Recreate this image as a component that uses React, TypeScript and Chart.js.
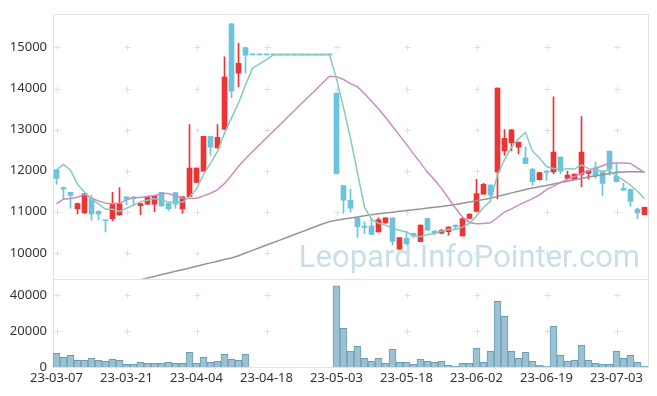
import { useEffect, useRef } from 'react';
import { Chart, registerables } from 'chart.js';

Chart.register(...registerables);

const dates = [
  '23-03-07','23-03-08','23-03-09','23-03-10','23-03-13','23-03-14','23-03-15','23-03-16','23-03-17','23-03-20',
  '23-03-21','23-03-22','23-03-23','23-03-24','23-03-27','23-03-28','23-03-29','23-03-30','23-03-31','23-04-03',
  '23-04-04','23-04-05','23-04-06','23-04-07','23-04-10','23-04-11','23-04-12','23-04-13','23-04-14','23-04-17',
  '23-04-18','23-04-19','23-04-20','23-04-21','23-04-24','23-04-25','23-04-26','23-04-27','23-04-28','23-05-02',
  '23-05-03','23-05-04','23-05-08','23-05-09','23-05-10','23-05-11','23-05-12','23-05-15','23-05-16','23-05-17',
  '23-05-18','23-05-19','23-05-22','23-05-23','23-05-24','23-05-25','23-05-26','23-05-30','23-05-31','23-06-01',
  '23-06-02','23-06-05','23-06-07','23-06-08','23-06-09','23-06-12','23-06-13','23-06-14','23-06-15','23-06-16',
  '23-06-19','23-06-20','23-06-21','23-06-22','23-06-23','23-06-26','23-06-27','23-06-28','23-06-29','23-06-30',
  '23-07-03','23-07-04','23-07-05','23-07-06','23-07-07',
];

const opens = [
  12020, 11590, 11470, 11070, 10970, 11320, 11010, 10800, 10830, 10920,
  11365, 11360, 11150, 11185, 11185, 11470, 11210, 11467, 11070, 11365,
  11715, 11990, 12835, 12556, 13012, 15577, 14375, 15000, 14820, 14820,
  14820, 14820, 14820, 14820, 14820, 14820, 14820, 14820, 14820, 14820,
  13890, 11635, 11280, 10850, 10650, 10650, 10512, 10730, 10850, 10090,
  10355, 10475, 10273, 10835, 10530, 10480, 10513, 10675, 10410, 10835,
  11010, 11427, 11650, 11970, 12484, 12676, 12572, 12310, 12036, 11779,
  11990, 11971, 12332, 11811, 11787, 11907, 11931, 12067, 11971, 12476,
  11867, 11571, 11547, 11067, 10930,
];
const highs = [
  12030, 11600, 11480, 11210, 11450, 11400, 11020, 10800, 11470, 11590,
  11370, 11370, 11210, 11380, 11400, 11470, 11220, 11470, 11370, 13120,
  12070, 12840, 12840, 13120, 14770, 15580, 15100, 15000, 14820, 14820,
  14820, 14820, 14820, 14820, 14820, 14820, 14820, 14820, 14820, 14820,
  13890, 11640, 11555, 10850, 10755, 10835, 10850, 10855, 10855, 10375,
  10530, 10480, 10680, 10840, 10540, 10570, 10640, 10680, 10840, 10950,
  11790, 11690, 11655, 14015, 13000, 13000, 12700, 12572, 12060, 11960,
  11995, 13800, 12335, 11990, 11920, 13320, 12010, 12212, 11975, 12480,
  12172, 11690, 11550, 11090, 11115,
];
const lows = [
  11670, 11310, 11090, 10950, 10960, 10790, 10800, 10510, 10780, 10910,
  11170, 11150, 10930, 11180, 11000, 11130, 11030, 11090, 10960, 11360,
  11710, 11985, 12375, 12550, 13000, 13780, 14040, 14375, 14820, 14820,
  14820, 14820, 14820, 14820, 14820, 14820, 14820, 14820, 14820, 14820,
  11930, 10960, 10990, 10375, 10465, 10445, 10510, 10725, 10185, 10085,
  10185, 10370, 10270, 10550, 10440, 10460, 10430, 10570, 10405, 10830,
  11000, 11420, 11315, 11315, 12372, 12484, 12410, 12165, 11650, 11770,
  11760, 11930, 11930, 11805, 11780, 11610, 11795, 11810, 11387, 11890,
  11725, 11520, 11130, 10825, 10925,
];
const closes = [
  11810, 11550, 11400, 11200, 11435, 10950, 10950, 10780, 11195, 11195,
  11305, 11320, 11200, 11370, 11395, 11140, 11075, 11185, 11365, 12065,
  12065, 12835, 12575, 12812, 14280, 13935, 14615, 14815, 14820, 14820,
  14820, 14820, 14820, 14820, 14820, 14820, 14820, 14820, 14820, 14820,
  11930, 11280, 11085, 10635, 10620, 10450, 10810, 10850, 10275, 10370,
  10225, 10410, 10673, 10553, 10480, 10545, 10625, 10635, 10835, 10945,
  11443, 11667, 11410, 14014, 12788, 12997, 12692, 12170, 11731, 11955,
  11955, 12452, 11988, 11892, 11915, 12452, 12003, 11875, 11691, 12036,
  11731, 11523, 11250, 10971, 11106,
];
const volumes = [
  7600, 5370, 6480, 3700, 3700, 4810, 3700, 3150, 4260, 3700,
  1480, 1480, 2590, 2040, 2040, 2040, 2590, 2040, 2040, 8150,
  2040, 5370, 2590, 3150, 7040, 4260, 3700, 7040, 0, 0,
  0, 0, 0, 0, 0, 0, 0, 0, 0, 0,
  45000, 21500, 8890, 11480, 4810, 3150, 4810, 2040, 9810, 2590,
  2590, 1480, 4260, 3150, 2590, 3150, 925, 370, 2040, 2040,
  10370, 2590, 8700, 36480, 28150, 8700, 4810, 8150, 3150, 925,
  370, 22600, 6480, 3150, 3700, 12040, 3700, 2040, 1480, 1480,
  8700, 4810, 6480, 2590, 370,
];
const ma5 = [
  12020, 12150, 12010, 11670, 11480, 11310, 11190, 11060, 11060, 11010,
  11085, 11160, 11245, 11280, 11320, 11285, 11235, 11235, 11230, 11365,
  11550, 11905, 12180, 12470, 12915, 13285, 13645, 14090, 14495, 14600,
  14705, 14820, 14820, 14820, 14820, 14820, 14820, 14820, 14820, 14820,
  14240, 13535, 12785, 11950, 11110, 10815, 10720, 10675, 10600, 10550,
  10505, 10425, 10390, 10445, 10470, 10530, 10575, 10570, 10625, 10715,
  10895, 11105, 11260, 11895, 12265, 12575, 12780, 12930, 12475, 12310,
  12100, 12055, 12015, 12050, 12040, 12140, 12050, 12025, 11985, 12010,
  11865, 11770, 11645, 11500, 11315,
];
const ma20 = [
  11195, 11305, 11325, 11355, 11425, 11330, 11265, 11210, 11195, 11210,
  11290, 11345, 11345, 11370, 11395, 11445, 11445, 11385, 11330, 11320,
  11330, 11387, 11450, 11530, 11690, 11890, 12110, 12290, 12465, 12630,
  12800, 12965, 13130, 13300, 13465, 13635, 13800, 13965, 14135, 14300,
  14290, 14220, 14120, 14040, 13880, 13690, 13500, 13300, 13080, 12860,
  12640, 12410, 12190, 11960, 11780, 11570, 11330, 11090, 10870, 10740,
  10710, 10715, 10730, 10860, 10990, 11070, 11160, 11240, 11320, 11410,
  11540, 11625, 11710, 11790, 11860, 11930, 12000, 12060, 12120, 12180,
  12185, 12185, 12175, 12060, 11960,
];
const ma60 = [
  8805, 8850, 8895, 8940, 8985, 9030, 9075, 9120, 9165, 9210,
  9255, 9300, 9345, 9385, 9425, 9470, 9510, 9550, 9590, 9630,
  9675, 9715, 9755, 9795, 9835, 9875, 9930, 9995, 10060, 10125,
  10190, 10250, 10315, 10380, 10445, 10510, 10575, 10640, 10700, 10760,
  10795, 10825, 10850, 10875, 10900, 10930, 10950, 10970, 10990, 11010,
  11030, 11050, 11070, 11090, 11110, 11130, 11150, 11175, 11205, 11240,
  11270, 11300, 11330, 11375, 11415, 11460, 11500, 11540, 11580, 11610,
  11640, 11675, 11710, 11745, 11780, 11810, 11845, 11870, 11900, 11930,
  11955, 11970, 11975, 11975, 11970,
];
const priceTicks = [10000, 11000, 12000, 13000, 14000, 15000];
const volumeTicks = [0, 20000, 40000];
const labelEvery = 10;

const RED = '#ec3434';
const BLUE = '#6cc3dc';
const FONT = { family: '"Noto Sans", sans-serif', size: 13 };

export default function App() {
  const ref = useRef<HTMLCanvasElement>(null);

  useEffect(() => {
    if (!ref.current) return;
    const colors = closes.map((c, i) => (c > opens[i] ? RED : BLUE));

    const panels = {
      id: 'panels',
      beforeDatasetsDraw(chart: any) {
        const { ctx } = chart;
        const x = chart.scales.x;
        const yp = chart.scales.y;
        const yv = chart.scales.yv;
        ctx.save();
        // watermark
        ctx.font = '31px Roboto, sans-serif';
        ctx.fillStyle = 'rgba(150,190,212,0.5)';
        ctx.textAlign = 'right';
        ctx.textBaseline = 'alphabetic';
        ctx.fillText('Leopard.InfoPointer.com', x.right - 8, yp.bottom - 12);
        // grid crosses
        ctx.strokeStyle = '#dedede';
        ctx.lineWidth = 1;
        for (const s of [yp, yv]) {
          for (const t of s.ticks) {
            const yy = Math.round(s.getPixelForValue(t.value)) + 0.5;
            if (yy < s.top + 2 || yy > s.bottom - 2) continue;
            for (let i = 0; i < dates.length; i += labelEvery) {
              const xx = Math.round(x.getPixelForValue(i)) + 0.5;
              ctx.beginPath();
              ctx.moveTo(xx - 3, yy);
              ctx.lineTo(xx + 3, yy);
              ctx.moveTo(xx, yy - 3);
              ctx.lineTo(xx, yy + 3);
              ctx.stroke();
            }
          }
        }
        // borders
        ctx.strokeStyle = '#e2e2e2';
        ctx.strokeRect(Math.round(x.left) + 0.5, Math.round(yp.top) + 0.5, Math.round(x.right - x.left), Math.round(yp.bottom - yp.top));
        ctx.strokeRect(Math.round(x.left) + 0.5, Math.round(yv.top) + 0.5, Math.round(x.right - x.left), Math.round(yv.bottom - yv.top));
        ctx.restore();
      },
    };

    const chart = new Chart(ref.current, {
      type: 'bar',
      data: {
        labels: dates,
        datasets: [
          { type: 'line', label: 'MA5', data: ma5, yAxisID: 'y', borderColor: '#86cabd', borderWidth: 1.5, pointRadius: 0, tension: 0, order: 0 } as any,
          { type: 'line', label: 'MA20', data: ma20, yAxisID: 'y', borderColor: '#c98cc3', borderWidth: 1.5, pointRadius: 0, tension: 0, order: 1 } as any,
          { type: 'line', label: 'MA60', data: ma60, yAxisID: 'y', borderColor: '#959595', borderWidth: 1.5, pointRadius: 0, tension: 0, order: 2 } as any,
          { type: 'bar', label: 'wick', data: lows.map((l, i) => [l, highs[i]]), yAxisID: 'y', backgroundColor: colors, barThickness: 1, grouped: false, order: 4 } as any,
          { type: 'bar', label: 'body', data: opens.map((o, i) => [o, closes[i]]), yAxisID: 'y', backgroundColor: colors, barThickness: 5, minBarLength: 1, grouped: false, order: 3 } as any,
          { type: 'bar', label: 'volume', data: volumes, yAxisID: 'yv', backgroundColor: '#9bc1d2', borderColor: '#6a9db3', borderWidth: 1, barPercentage: 1, categoryPercentage: 1, grouped: false, order: 5 } as any,
        ],
      },
      options: {
        animation: false,
        responsive: false,
        layout: { padding: { top: 10, right: 9, left: 0, bottom: 0 } },
        plugins: { legend: { display: false }, tooltip: { enabled: false } },
        scales: {
          x: {
            type: 'category',
            offset: true,
            grid: { display: false, drawTicks: false },
            border: { display: false },
            afterFit: (s: any) => { s.height = 29; },
            ticks: {
              autoSkip: false,
              maxRotation: 0,
              padding: 3,
              color: '#333',
              font: FONT,
              callback: (_v: any, i: number) => (i % labelEvery === 0 ? dates[i] : ''),
            },
          },
          yv: {
            type: 'linear',
            position: 'left',
            stack: 'panels',
            stackWeight: 1,
            min: 0,
            max: 49000,
            grid: { display: false, drawTicks: false },
            border: { display: false },
            afterBuildTicks: (s: any) => { s.ticks = volumeTicks.map((v) => ({ value: v })); },
            afterFit: (s: any) => { s.width = 53; },
            ticks: { padding: 6, color: '#333', font: FONT, callback: (v: any) => String(v) },
          },
          y: {
            type: 'linear',
            position: 'left',
            stack: 'panels',
            stackWeight: 3,
            min: 9370,
            max: 15820,
            grid: { display: false, drawTicks: false },
            border: { display: false },
            afterBuildTicks: (s: any) => { s.ticks = priceTicks.map((v) => ({ value: v })); },
            afterFit: (s: any) => { s.width = 53; },
            ticks: { padding: 6, color: '#333', font: FONT, callback: (v: any) => String(v) },
          },
        } as any,
      },
      plugins: [panels],
    });
    return () => chart.destroy();
  }, []);

  return (
    <div style={{ position: 'absolute', left: 0, top: 0, width: 657, height: 396, background: '#fff' }}>
      <canvas ref={ref} width={657} height={396} />
    </div>
  );
}
